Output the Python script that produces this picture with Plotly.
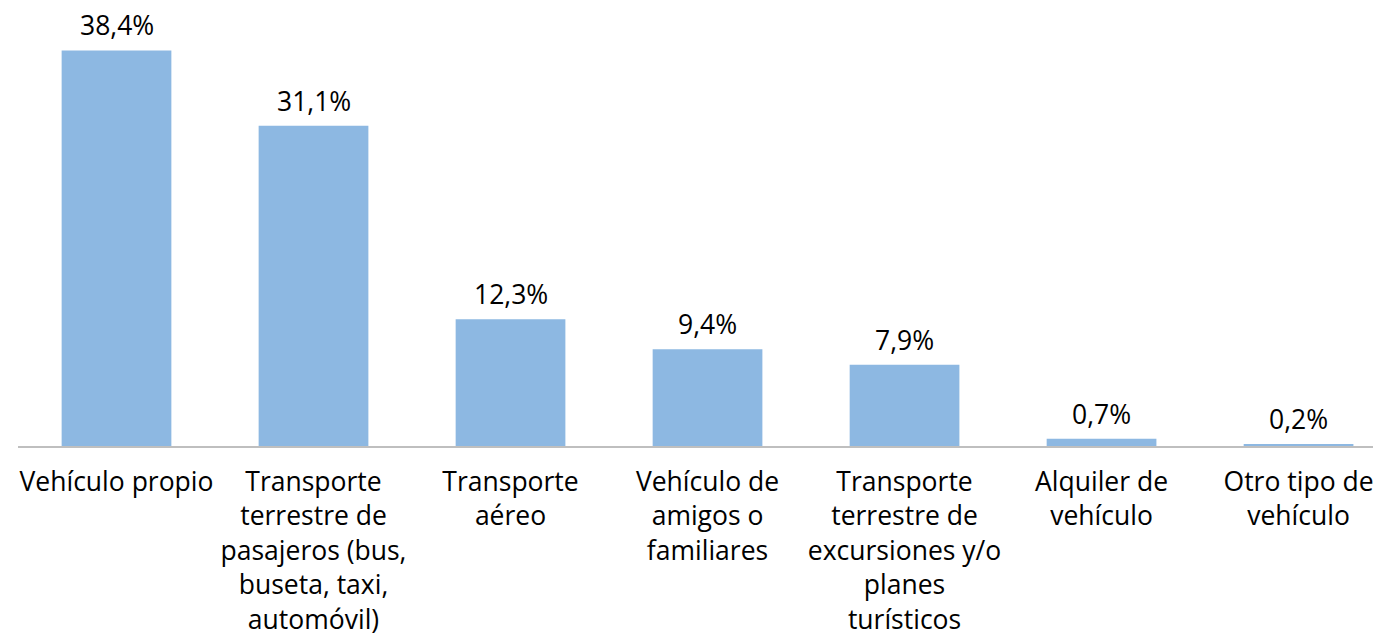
import plotly.graph_objects as go

categories = [
    "Vehículo propio",
    "Transporte<br>terrestre de<br>pasajeros (bus,<br>buseta, taxi,<br>automóvil)",
    "Transporte<br>aéreo",
    "Vehículo de<br>amigos o<br>familiares",
    "Transporte<br>terrestre de<br>excursiones y/o<br>planes<br>turísticos",
    "Alquiler de<br>vehículo",
    "Otro tipo de<br>vehículo",
]
values = [38.4, 31.1, 12.3, 9.4, 7.9, 0.7, 0.2]
labels = ["38,4%", "31,1%", "12,3%", "9,4%", "7,9%", "0,7%", "0,2%"]

W, H = 1373, 639
ml, mr, mt, mb = 17.5, 0, 20, 193
pxu = 10.3
yr = (H - mt - mb) / pxu
spacing = 197.08
xmax = (W - ml) / spacing - 0.5

fig = go.Figure()
fig.add_trace(go.Bar(
    x=list(range(len(categories))), y=values,
    marker=dict(color="#8DB8E2", line=dict(width=0)),
    hoverinfo="skip",
))
for i, (v, t) in enumerate(zip(values, labels)):
    fig.add_annotation(x=i, y=v, text=t, showarrow=False, yanchor="bottom",
                       yshift=5, font=dict(family="Open Sans", size=26.5, color="#000000"))

fig.update_layout(
    template="none",
    width=W, height=H,
    margin=dict(l=ml, r=mr, t=mt, b=mb, pad=0, autoexpand=False),
    plot_bgcolor="white", paper_bgcolor="white",
    bargap=0.443,
    showlegend=False,
    font=dict(family="Open Sans", size=26.5, color="#000000"),
)
fig.update_xaxes(
    range=[-0.5, xmax], automargin=False,
    tickmode="array", tickvals=list(range(len(categories))), ticktext=categories,
    showline=True, linecolor="#BFBFBF", linewidth=2,
    ticks="", showgrid=False, zeroline=False,
    ticklabelstandoff=11, ticklabeloverflow="allow",
    tickfont=dict(family="Open Sans", size=26.5, color="#000000"),
)
fig.update_yaxes(range=[0, yr], visible=False, showgrid=False, zeroline=False, automargin=False)

fig.write_html(
    "out.html",
    config={"displayModeBar": False},
    post_script="document.body.style.margin='0';document.body.style.overflow='hidden';",
)
